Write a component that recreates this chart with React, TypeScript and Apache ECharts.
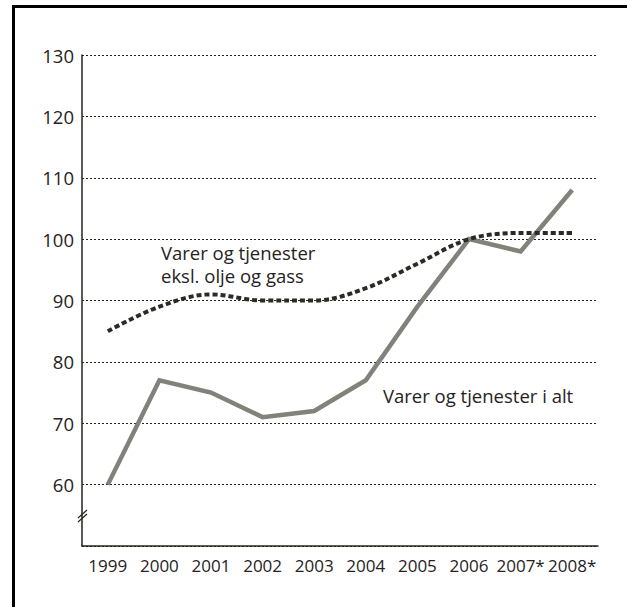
import React, { useEffect, useRef } from "react";
import * as echarts from "echarts";

const years = ["1999", "2000", "2001", "2002", "2003", "2004", "2005", "2006", "2007*", "2008*"];
const totalValues = [60, 77, 75, 71, 72, 77, 89, 100, 98, 108];
const exOilGasValues = [85, 89, 91, 90, 90, 92, 96, 100, 101, 101];
const yTicks = { min: 50, max: 130, interval: 10 };
const labelExOil = "Varer og tjenester\neksl. olje og gass";
const labelTotal = "Varer og tjenester i alt";

const FONT = "'Open Sans', 'Noto Sans', sans-serif";
const TEXT = "#26221d";

export default function App() {
  const ref = useRef<HTMLDivElement>(null);
  useEffect(() => {
    if (!ref.current) return;
    const chart = echarts.init(ref.current, undefined, { renderer: "svg" });
    chart.setOption({
      animation: false,
      backgroundColor: "#ffffff",
      grid: { left: 82, right: 29, top: 55, bottom: 61, containLabel: false },
      xAxis: {
        type: "category",
        data: years,
        boundaryGap: true,
        axisLine: { lineStyle: { color: TEXT, width: 1.5 } },
        axisTick: { inside: true, length: 12, alignWithLabel: true, lineStyle: { color: TEXT, width: 1.3 } },
        axisLabel: { color: TEXT, fontFamily: FONT, fontSize: 17, margin: 11, interval: 0 },
        splitLine: { show: false },
      },
      yAxis: {
        type: "value",
        min: yTicks.min,
        max: yTicks.max,
        interval: yTicks.interval,
        axisLine: { show: true, lineStyle: { color: TEXT, width: 1.5 } },
        axisTick: { show: false },
        axisLabel: {
          color: TEXT,
          fontFamily: FONT,
          fontSize: 18.5,
          margin: 8,
          formatter: (v: number) => (v === yTicks.min ? "" : String(v)),
        },
        splitLine: { show: true, lineStyle: { color: TEXT, width: 1.2, type: [2, 2] } },
      },
      series: [
        {
          type: "line",
          data: totalValues,
          symbol: "none",
          lineStyle: { color: "#80837a", width: 4.5, cap: "butt", join: "miter" },
          z: 3,
        },
        {
          type: "line",
          data: exOilGasValues,
          symbol: "none",
          smooth: 0.35,
          lineStyle: { color: "#2d2924", width: 4, type: [5, 3], cap: "butt" },
          z: 4,
        },
      ],
      graphic: [
        { type: "line", shape: { x1: 12, y1: 6.5, x2: 627, y2: 6.5 }, style: { stroke: "#000", lineWidth: 3 } },
        { type: "line", shape: { x1: 13.5, y1: 5, x2: 13.5, y2: 607 }, style: { stroke: "#000", lineWidth: 3 } },
        { type: "line", shape: { x1: 78, y1: 522, x2: 87, y2: 514 }, style: { stroke: TEXT, lineWidth: 1.2 } },
        { type: "line", shape: { x1: 78, y1: 518, x2: 87, y2: 510 }, style: { stroke: TEXT, lineWidth: 1.2 } },
        {
          type: "text",
          x: 161,
          y: 264,
          style: {
            text: labelExOil,
            fill: TEXT,
            font: `18.5px ${FONT}`,
            lineHeight: 23,
            align: "left",
            verticalAlign: "middle",
          },
        },
        {
          type: "text",
          x: 383,
          y: 395,
          style: {
            text: labelTotal,
            fill: TEXT,
            font: `18.5px ${FONT}`,
            align: "left",
            verticalAlign: "middle",
          },
        },
      ],
    });
    return () => chart.dispose();
  }, []);
  return (
    <div
      ref={ref}
      style={{ position: "fixed", left: 0, top: 0, width: 627, height: 607, background: "#fff" }}
    />
  );
}
